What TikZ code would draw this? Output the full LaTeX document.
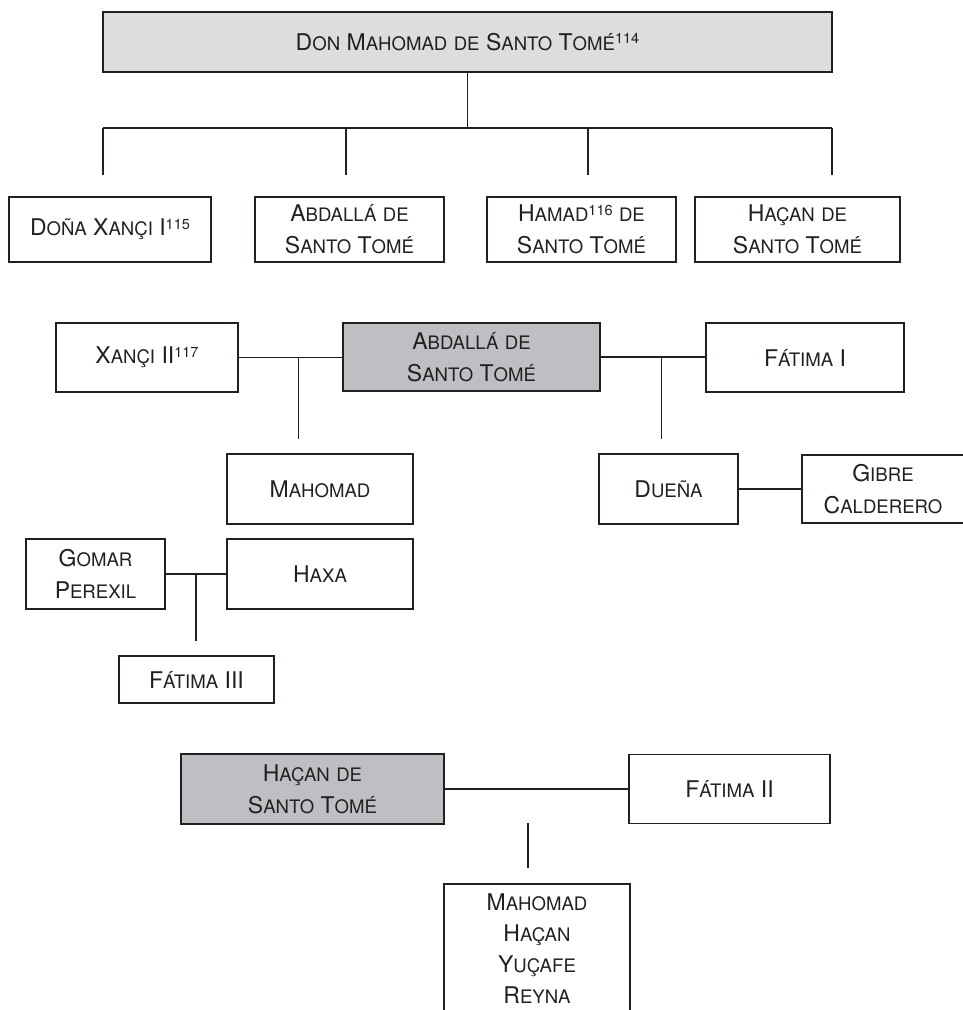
\documentclass[tikz,border=0pt]{standalone}
\usepackage{fontspec}
\setmainfont{TeX Gyre Heros}
\definecolor{ink}{RGB}{35,31,32}
\definecolor{lightfill}{RGB}{220,221,223}
\definecolor{midfill}{RGB}{190,191,194}
\newcommand\lsc[1]{{\fontsize{18.6}{32}\selectfont #1}}
\newcommand\supnum[1]{\raisebox{6.4pt}{\fontsize{14.5}{14.5}\selectfont #1}}
\tikzset{
  famBox/.style={draw=ink, line width=1.8pt, inner sep=0pt, align=center,
    font=\fontsize{23}{32}\selectfont, text=ink},
  famText/.style={inner sep=0pt, align=center, font=\fontsize{23}{32}\selectfont, text=ink},
  famSide/.style={draw=ink, line width=1.8pt},
  conn/.style={draw=ink, line width=1.4pt}
}
\begin{document}
\begin{tikzpicture}[x=1pt,y=-1pt]
\useasboundingbox (0,0) rectangle (963,1010);
% top
\node[famBox, fill=lightfill, minimum width=729pt, minimum height=60pt] (top) at (467.5,42)
  {D\lsc{ON} M\lsc{AHOMAD} \lsc{DE} S\lsc{ANTO} T\lsc{OMÉ}\supnum{114}};
% row 1
\node[famBox, minimum width=202pt, minimum height=65pt] (donya) at (110,229.5)
  {D\lsc{OÑA} X\lsc{ANÇI} I\supnum{115}};
\node[famBox, minimum width=189pt, minimum height=65pt] (abdA) at (349.5,229.5)
  {A\lsc{BDALLÁ} \lsc{DE}\\S\lsc{ANTO} T\lsc{OMÉ}};
\node[famBox, minimum width=189pt, minimum height=65pt] (hamad) at (581.5,229.5)
  {H\lsc{AMAD}\supnum{116} \lsc{DE}\\S\lsc{ANTO} T\lsc{OMÉ}};
\node[famBox, minimum width=205pt, minimum height=65pt] (hacanA) at (797.5,229.5)
  {H\lsc{AÇAN} \lsc{DE}\\S\lsc{ANTO} T\lsc{OMÉ}};
\coordinate (barL) at (103,128);
\coordinate (barR) at (832,128);
\coordinate (d1) at (103,175);
\coordinate (d2) at (346,175);
\coordinate (d3) at (588,175);
\coordinate (d4) at (832,175);
\draw[conn] (top.south) -- (top.south |- barL);
\draw[conn] (barL) -- (barR);
\draw[conn] (d1 |- barL) -- (d1);
\draw[conn] (d2 |- barL) -- (d2);
\draw[conn] (d3 |- barL) -- (d3);
\draw[conn] (d4 |- barL) -- (d4);
% section 2
\node[famBox, minimum width=181.5pt, minimum height=69pt] (xanci) at (147,357.5)
  {X\lsc{ANÇI} II\supnum{117}};
\node[famBox, fill=midfill, minimum width=257pt, minimum height=68pt] (abdB) at (471.5,357)
  {A\lsc{BDALLÁ} \lsc{DE}\\S\lsc{ANTO} T\lsc{OMÉ}};
\node[famBox, minimum width=198pt, minimum height=69pt] (fatA) at (805,357.5)
  {F\lsc{ÁTIMA} I};
\draw[conn] (xanci.east) -- (xanci.east -| abdB.west);
\draw[conn] (abdB.east) -- (abdB.east -| fatA.west);
\coordinate (v1) at (298.5,439);
\coordinate (v2) at (661.5,439);
\draw[conn] (v1 |- xanci.east) -- (v1);
\draw[conn] (v2 |- abdB.east) -- (v2);
\node[famBox, minimum width=186pt, minimum height=70pt] (mahomad) at (320,489)
  {M\lsc{AHOMAD}};
\node[famBox, minimum width=139pt, minimum height=70pt] (duena) at (668.5,489)
  {D\lsc{UEÑA}};
\node[famText, minimum width=162pt, minimum height=68pt] (gibre) at (883,489)
  {G\lsc{IBRE}\\C\lsc{ALDERERO}};
\draw[famSide] (gibre.north east) -- (gibre.north west) -- (gibre.south west) -- (gibre.south east);
\draw[conn] (duena.east) -- (duena.east -| gibre.west);
% section 3
\node[famBox, minimum width=139pt, minimum height=70pt] (gomar) at (95.5,574)
  {G\lsc{OMAR}\\P\lsc{EREXIL}};
\node[famBox, minimum width=186pt, minimum height=70pt] (haxa) at (320,574)
  {H\lsc{AXA}};
\draw[conn] (gomar.east) -- (gomar.east -| haxa.west);
\coordinate (v3) at (196,641);
\draw[conn] (v3 |- gomar.east) -- (v3);
\node[famBox, minimum width=155pt, minimum height=47pt] (fatC) at (196.5,679.5)
  {F\lsc{ÁTIMA} III};
% section 4
\node[famBox, fill=midfill, minimum width=263pt, minimum height=70pt] (hacanB) at (312.5,789)
  {H\lsc{AÇAN} \lsc{DE}\\S\lsc{ANTO} T\lsc{OMÉ}};
\node[famBox, minimum width=201pt, minimum height=69pt] (fatB) at (729.5,789)
  {F\lsc{ÁTIMA} II};
\draw[conn] (hacanB.east) -- (fatB.west);
\coordinate (v4a) at (528,823);
\coordinate (v4b) at (528,868);
\draw[conn] (v4a) -- (v4b);
\node[famText, font=\fontsize{23}{31}\selectfont, minimum width=186pt, minimum height=129pt] (kids) at (537,948.5)
  {M\lsc{AHOMAD}\\H\lsc{AÇAN}\\Y\lsc{UÇAFE}\\R\lsc{EYNA}};
\draw[famSide] (kids.south west) -- (kids.north west) -- (kids.north east) -- (kids.south east);
\end{tikzpicture}
\end{document}
